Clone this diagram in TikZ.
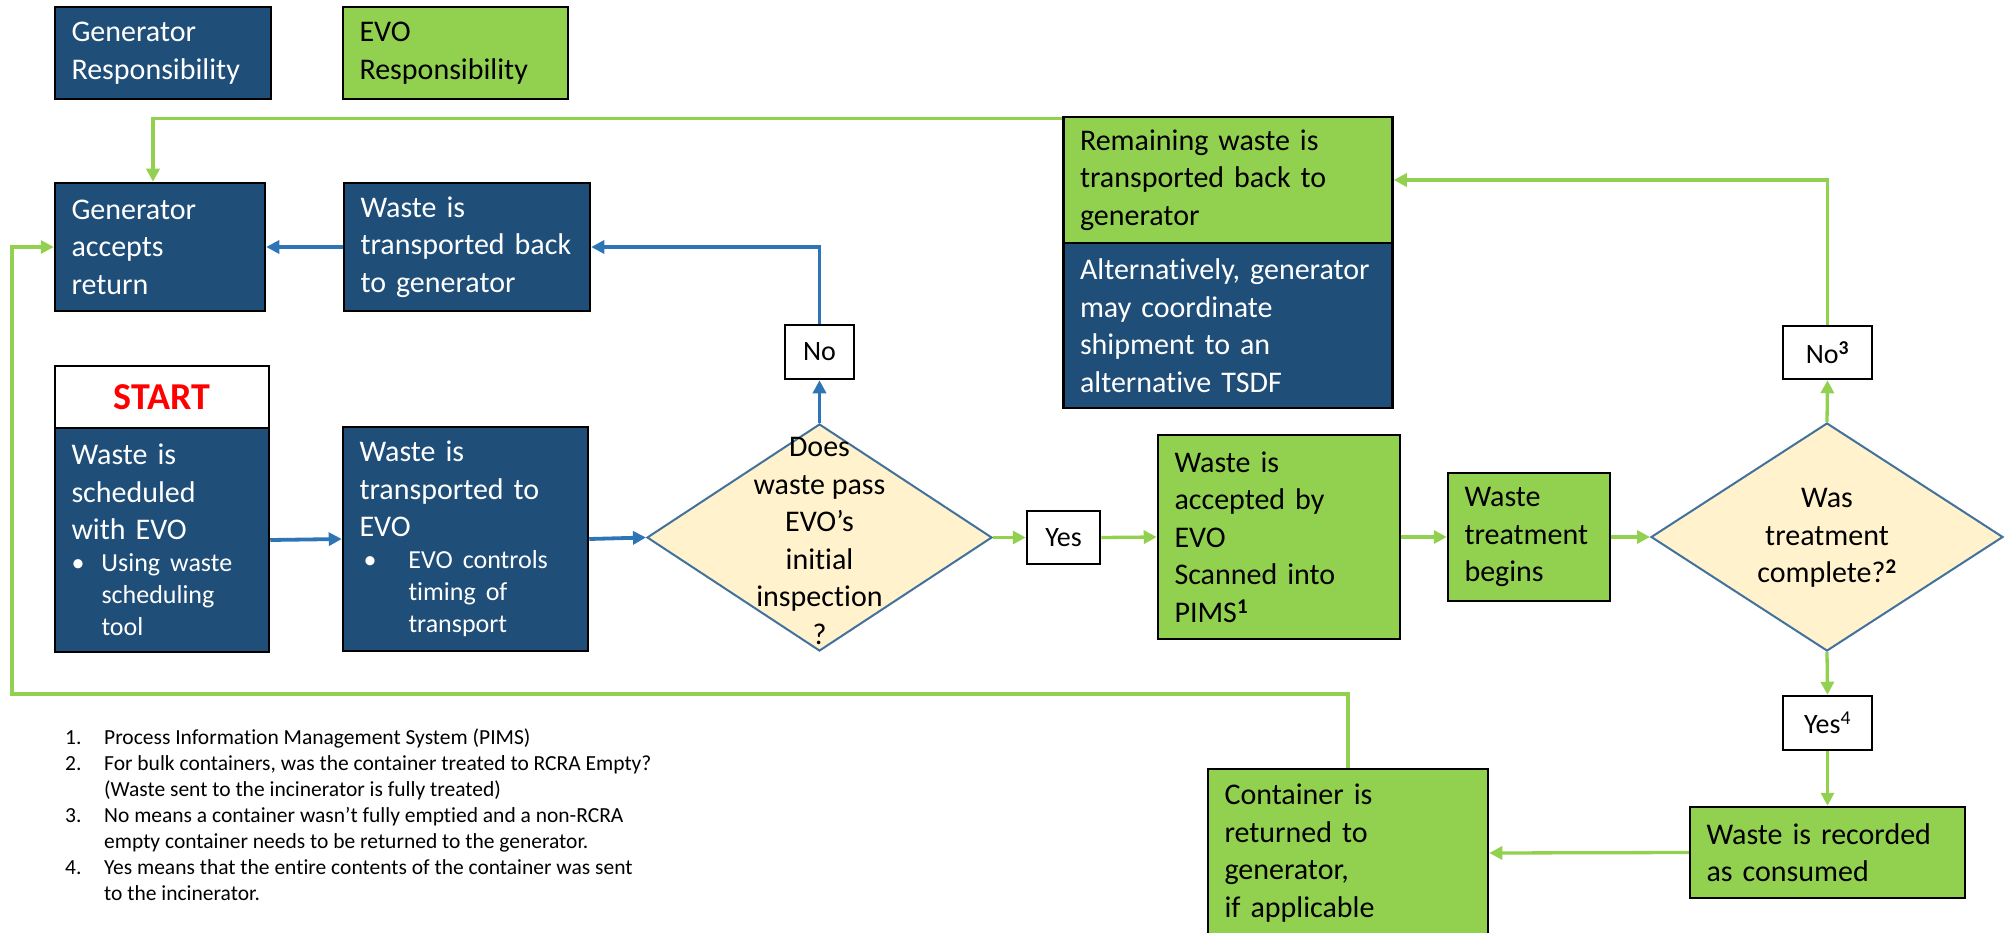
\documentclass[tikz,border=0pt]{standalone}
\usepackage{fontspec}
\setmainfont{Carlito}[Ligatures={NoCommon}]
\usetikzlibrary{arrows.meta,shapes.geometric,calc}
\definecolor{dblue}{HTML}{1F4E79}
\definecolor{lgreen}{HTML}{92D050}
\definecolor{ablue}{HTML}{2E75B6}
\definecolor{dfill}{HTML}{FFF2CC}
\definecolor{dline}{HTML}{41719C}
\definecolor{sred}{HTML}{FF0000}
\tikzset{
 basebox/.style={draw=black, line width=2.5pt, rectangle, inner xsep=16.5pt, inner ysep=0pt, align=left, font=\fontsize{30}{37.5}\selectfont},
 gbox/.style={basebox, fill=dblue, text=white},
 ebox/.style={basebox, fill=lgreen, text=black},
 lbl/.style={draw=black, line width=2.5pt, fill=white, inner sep=0pt, font=\fontsize{28}{34}\selectfont},
 dia/.style={diamond, draw=dline, fill=dfill, line width=2pt, inner sep=0pt},
 diatext/.style={align=center, inner sep=0pt, font=\fontsize{30}{37.5}\selectfont},
 barr/.style={draw=ablue, line width=3.8pt, -{Triangle[length=13pt,width=13pt]}},
 garr/.style={draw=lgreen, line width=3.3pt, -{Triangle[length=13pt,width=13pt]}},
}
\begin{document}
\begin{tikzpicture}[x=1pt,y=-1pt]
\fill[white] (0,0) rectangle (2005,933);
\useasboundingbox (0,0) rectangle (2005,933);

% legend
\node[gbox, minimum width=216pt, minimum height=92pt, text width=183pt] (genresp) at (163,53) {Generator\\Responsibility};
\node[ebox, minimum width=225pt, minimum height=92pt, text width=192pt] (evoresp) at (455.5,53) {EVO\\Responsibility};

% top row
\node[gbox, minimum width=210pt, minimum height=128pt, text width=177pt] (genacc) at (160,247) {Generator\\accepts\\return};
\node[gbox, minimum width=246pt, minimum height=128pt, text width=213pt] (wback) at (467,247) {Waste is\\transported back\\to generator};
\node[ebox, minimum width=329pt, minimum height=126pt, text width=296pt] (rem) at (1228,180) {Remaining waste is\\transported back to\\generator};
\node[gbox, minimum width=329pt, minimum height=165pt, text width=296pt] (alt) at (1228,325.5) {Alternatively, generator\\may coordinate\\shipment to an\\alternative TSDF};

% start
\node[draw=black, line width=2.5pt, fill=white, minimum width=214pt, minimum height=62pt, inner sep=0pt, text=sred, font=\fontsize{38}{44}\selectfont\bfseries] (start) at (162,397) {START};
\node[gbox, minimum width=214pt, minimum height=224pt, text width=181pt] (sched) at (162,540)
 {{\fontsize{30}{37.5}\selectfont Waste is\\scheduled\\with EVO\par}
  {\fontsize{26}{32}\selectfont\makebox[30pt][l]{•}Using waste\\\hspace*{30pt}scheduling\\\hspace*{30pt}tool\par}};
\node[gbox, minimum width=245pt, minimum height=224pt, text width=212pt] (trans) at (465.5,539)
 {{\fontsize{30}{37.5}\selectfont Waste is\\transported to\\EVO\par}
  {\fontsize{26}{32}\selectfont\makebox[49pt][l]{\hspace*{4pt}•}EVO controls\\\hspace*{49pt}timing of\\\hspace*{49pt}transport\par}};

% decision 1
\node[dia, minimum width=345pt, minimum height=227pt] (d1) at (819.5,537.5) {};
\node[diatext] (d1t) at (819.5,541) {Does\\waste pass\\EVO’s\\initial\\inspection\\?};
\node[lbl, minimum width=69pt, minimum height=54pt] (no1) at (819.5,352) {No};
\node[lbl, minimum width=73pt, minimum height=53pt] (yes1) at (1063.5,537.5) {Yes};

\node[ebox, minimum width=242pt, minimum height=204pt, text width=209pt] (acc) at (1279,537) {Waste is\\accepted by\\EVO\\Scanned into\\PIMS\textsuperscript{\textbf{1}}};
\node[ebox, minimum width=162pt, minimum height=128pt, text width=129pt] (treat) at (1529,537) {Waste\\treatment\\begins};

% decision 2
\node[dia, minimum width=352pt, minimum height=228pt] (d2) at (1827,537) {};
\node[diatext] (d2t) at (1827,538) {Was\\treatment\\complete?\textsuperscript{\textbf{2}}};
\node[lbl, minimum width=89pt, minimum height=53pt] (no3) at (1827.5,352.5) {No\textsuperscript{\textbf{3}}};
\node[lbl, minimum width=89pt, minimum height=54pt] (yes4) at (1827.5,723) {Yes\textsuperscript{4}};

\node[ebox, minimum width=275pt, minimum height=91pt, text width=242pt] (rec) at (1827.5,852.5) {Waste is recorded\\as consumed};
\node[ebox, minimum width=280pt, minimum height=168pt, text width=247pt] (cont) at (1348,853) {Container is\\returned to\\generator,\\if applicable};

% footnotes
\node[anchor=north west, align=left, inner sep=0pt, font=\fontsize{21.5}{26}\selectfont] (notes) at (65,729)
 {\makebox[39pt][l]{1.}Process Information Management System (PIMS)\\
  \makebox[39pt][l]{2.}For bulk containers, was the container treated to RCRA Empty?\\
  \hspace*{39pt}(Waste sent to the incinerator is fully treated)\\
  \makebox[39pt][l]{3.}No means a container wasn’t fully emptied and a non-RCRA\\
  \hspace*{39pt}empty container needs to be returned to the generator.\\
  \makebox[39pt][l]{4.}Yes means that the entire contents of the container was sent\\
  \hspace*{39pt}to the incinerator.};

% connectors
\draw[barr] (sched.east) -- (trans.west);
\draw[barr] (trans.east) -- (d1.west);
\draw[barr] (d1.north) -- (no1.south);
\draw[barr] (no1.north) |- (wback.east);
\draw[barr] (wback.west) -- (genacc.east);
\draw[garr] (d1.east) -- (yes1.west);
\draw[garr] (yes1.east) -- (acc.west);
\draw[garr] (acc.east) -- (treat.west);
\draw[garr] (treat.east) -- (d2.west);
\draw[garr] (d2.north) -- (no3.south);
\draw[garr] (no3.north) |- (rem.east);
\draw[garr] ([yshift=-3pt]rem.north west) -| ([xshift=-7pt]genacc.north);
\draw[garr] (d2.south) -- (yes4.north);
\draw[garr] (yes4.south) -- (rec.north);
\draw[garr] (rec.west) -- (cont.east);
\coordinate (lb) at (12,694);
\draw[garr] (cont.north) |- (lb) |- (genacc.west);
\end{tikzpicture}
\end{document}
